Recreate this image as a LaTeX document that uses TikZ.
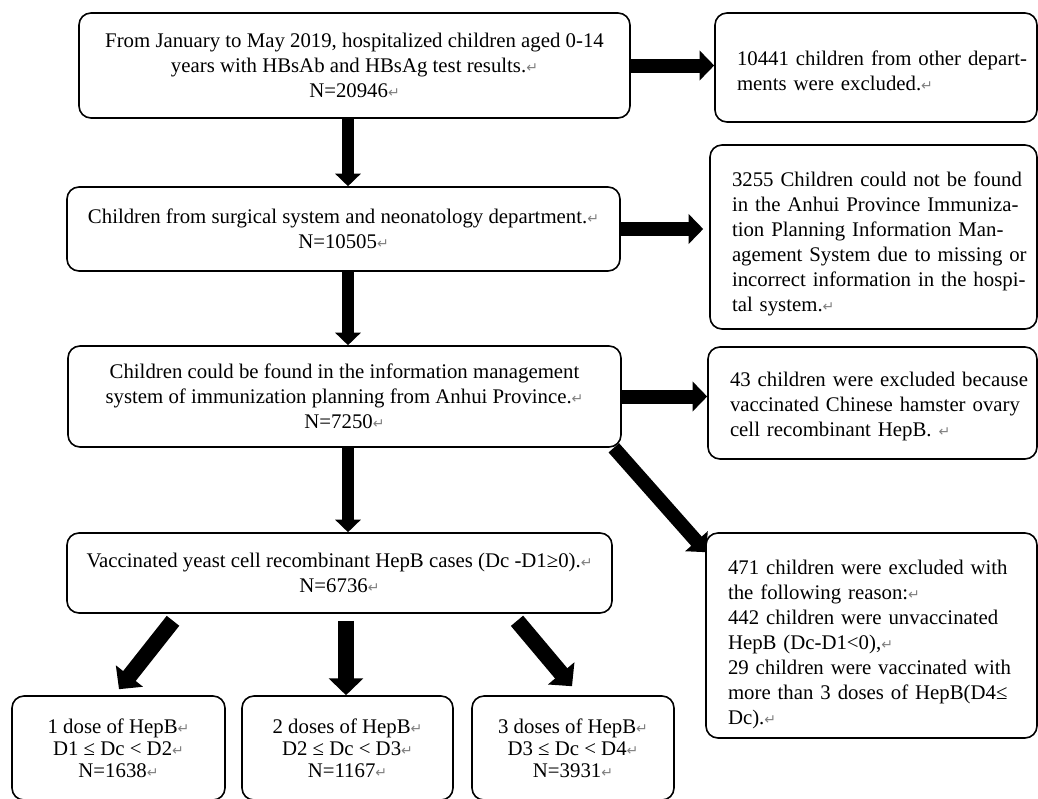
\documentclass[tikz,border=0pt]{standalone}
\usepackage{fontspec}
\setmainfont{Liberation Serif}
\newfontfamily\markfont{DejaVu Sans}
\usetikzlibrary{arrows.meta,calc}
\newcommand{\retmark}{{\markfont\fontsize{7}{7}\selectfont\color{gray}↵}}
\newcommand{\leftlines}[2][0pt]{\raisebox{-#1}[\height][\depth]{\begin{tabular}{@{}l@{}}#2\end{tabular}}}

\begin{document}
\begin{tikzpicture}[x=0.5pt,y=-0.5pt,thick,line join=round,
    box/.style={draw,rounded corners=6pt,align=center,inner sep=0pt,
        font=\fontsize{10.4}{12.5}\selectfont},
    side/.style={box,align=left,text width=#1},
    fat/.style={line width=#1,-{Triangle[width=0pt 2.1,length=0pt 1.05]}},
    fat/.default=6pt]
  \useasboundingbox (0,0) rectangle (1038,798);

  \node[box,minimum width=275.5pt,minimum height=52.5pt] (from) at (354.5,65.5)
    {From January to May 2019, hospitalized children aged 0-14\\
     years with HBsAb and HBsAg test results.\retmark\\ N=20946\retmark};
  \node[box,minimum width=276.5pt,minimum height=42pt] (surg) at (343.5,229)
    {Children from surgical system and neonatology department.\retmark\\ N=10505\retmark};
  \node[box,minimum width=276.5pt,minimum height=50.5pt] (found) at (344.5,396.5)
    {Children could be found in the information management\\
     system of immunization planning from Anhui Province.\retmark\\ N=7250\retmark};
  \node[box,minimum width=272.5pt,minimum height=40pt] (yeast) at (339.5,573)
    {Vaccinated yeast cell recombinant HepB cases (Dc -D1≥0).\retmark\\ N=6736\retmark};

  \node[side=139pt,minimum width=161pt,minimum height=54.5pt] (other) at (876,67.5)
    {\leftlines[2.5pt]{10441 children from other depart-\\ments were excluded.\retmark}};
  \node[side=141.5pt,minimum width=163.5pt,minimum height=92pt] (notfound) at (873.5,237)
    {\leftlines[3.5pt]{3255 Children could not be found\\ in the Anhui Province Immuniza-\\
     tion Planning Information Man-\\agement System due to missing or\\
     incorrect information in the hospi-\\tal system.\retmark}};
  \node[side=142.5pt,minimum width=164.5pt,minimum height=56pt] (cho) at (872.5,403)
    {\leftlines[1.5pt]{43 children were excluded because\\ vaccinated Chinese hamster ovary\\
     cell recombinant HepB. \retmark}};
  \node[side=143.5pt,minimum width=165.5pt,minimum height=102.5pt] (reason) at (871.5,635.5)
    {\leftlines[4.5pt]{471 children were excluded with\\ the following reason:\retmark\\
     442 children were unvaccinated\\ HepB (Dc-D1<0),\retmark\\
     29 children were vaccinated with\\ more than 3 doses of HepB(D4≤\\ Dc).\retmark}};

  \foreach \i/\x/\w/\N/\dose/\name in {1/118.5/106.5/1638/dose/one,
      2/347.5/105.5/1167/doses/two,3/573/101/3931/doses/three} {
      \pgfmathtruncatemacro{\j}{\i+1}
      \node[box,font=\fontsize{10.4}{11}\selectfont,minimum width=\w pt,minimum height=52pt]
        (\name) at (\x,748) {\i\ \dose\ of HepB\retmark\\ D\i\ ≤ Dc < D\j\retmark\\ N=\N\retmark};
    }

  \coordinate (spine) at (348,0);
  \draw[fat] (from.south -| spine) -- (surg.north -| spine);
  \draw[fat] (surg.south -| spine) -- (found.north -| spine);
  \draw[fat] (found.south -| spine) -- (yeast.north -| spine);
  \draw[fat=7pt] (from.east) -- (from.east -| other.west);
  \draw[fat=7pt,shorten >=3pt] (surg.east) -- (surg.east -| notfound.west);
  \draw[fat=7pt] (found.east) -- (found.east -| cho.west);
  \draw[fat=7pt] ($(found.south east)+(-8,0)$) -- ($(reason.north west)+(1,20)$);
  \draw[fat=8pt] ($(yeast.south)+(-166.5,7)$) -- ($(one.north)+(0.5,-6)$);
  \draw[fat=8pt] ($(yeast.south)+(6.5,7)$) -- ($(two.north)+(-1.5,0)$);
  \draw[fat=8pt] ($(yeast.south)+(177.5,7)$) -- ($(three.north)+(-1,-9)$);
\end{tikzpicture}
\end{document}
